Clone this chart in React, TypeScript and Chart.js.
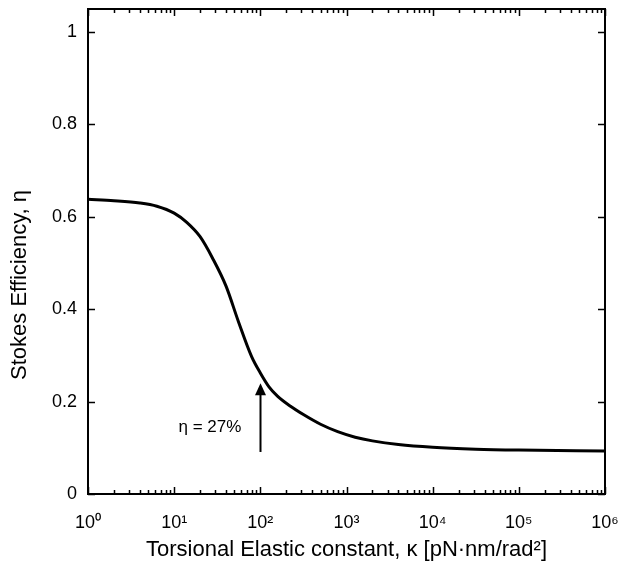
import { useEffect, useRef } from "react";
import { Chart, registerables } from "chart.js";

Chart.register(...registerables);

const kappa = [1, 2, 4, 6.3, 10, 14, 20, 28, 40, 56, 79, 100, 126, 158, 224, 316, 500, 790, 1260, 2000, 4000, 10000, 31600, 100000, 1000000];
const eta = [0.638, 0.635, 0.63, 0.623, 0.608, 0.588, 0.557, 0.51, 0.45, 0.372, 0.298, 0.262, 0.232, 0.212, 0.19, 0.172, 0.151, 0.135, 0.123, 0.115, 0.107, 0.101, 0.097, 0.095, 0.093];

const xTicks = [1, 10, 100, 1000, 10000, 100000, 1000000];
const xTickLabels = ["10⁰", "10¹", "10²", "10³", "10⁴", "10⁵", "10⁶"];
const yTicks = [0, 0.2, 0.4, 0.6, 0.8, 1];
const yTickLabels = ["0", "0.2", "0.4", "0.6", "0.8", "1"];

const xTitle = "Torsional Elastic constant, κ [pN·nm/rad²]";
const yTitle = "Stokes Efficiency, η";

const annotationText = "η = 27%";
const annotationTextKappa = 26;
const annotationTextEta = 0.145;
const arrowKappa = 100;
const arrowFromEta = 0.091;
const arrowToEta = 0.24;

const FONT = "'Liberation Sans', Arial, Helvetica, sans-serif";

const frameAndTicks = {
  id: "frameAndTicks",
  afterDatasetsDraw(chart: any) {
    const { ctx, chartArea, scales } = chart;
    const { left, right, top, bottom } = chartArea;
    const x = scales.x;
    const y = scales.y;
    ctx.save();
    ctx.strokeStyle = "#000";
    ctx.lineWidth = 2;
    ctx.strokeRect(left, top, right - left, bottom - top);

    ctx.lineWidth = 1.5;
    ctx.beginPath();
    xTicks.forEach((t, i) => {
      const px = Math.round(x.getPixelForValue(t)) + 0.5;
      ctx.moveTo(px, bottom);
      ctx.lineTo(px, bottom - 7);
      ctx.moveTo(px, top);
      ctx.lineTo(px, top + 7);
      if (i < xTicks.length - 1) {
        for (let m = 2; m <= 9; m++) {
          const mx = Math.round(x.getPixelForValue(t * m)) + 0.5;
          ctx.moveTo(mx, bottom);
          ctx.lineTo(mx, bottom - 4);
          ctx.moveTo(mx, top);
          ctx.lineTo(mx, top + 4);
        }
      }
    });
    yTicks.forEach((t) => {
      const py = Math.round(y.getPixelForValue(t)) + 0.5;
      ctx.moveTo(left, py);
      ctx.lineTo(left + 7, py);
      ctx.moveTo(right, py);
      ctx.lineTo(right - 7, py);
    });
    ctx.stroke();

    // annotation arrow
    const ax = Math.round(x.getPixelForValue(arrowKappa)) + 0.5;
    const y0 = y.getPixelForValue(arrowFromEta);
    const y1 = y.getPixelForValue(arrowToEta);
    const headLen = 12;
    const headHalf = 5.5;
    ctx.lineWidth = 2;
    ctx.beginPath();
    ctx.moveTo(ax, y0);
    ctx.lineTo(ax, y1 + headLen - 1);
    ctx.stroke();
    ctx.fillStyle = "#000";
    ctx.beginPath();
    ctx.moveTo(ax, y1);
    ctx.lineTo(ax - headHalf, y1 + headLen);
    ctx.lineTo(ax + headHalf, y1 + headLen);
    ctx.closePath();
    ctx.fill();

    ctx.font = `17px ${FONT}`;
    ctx.textAlign = "center";
    ctx.textBaseline = "middle";
    ctx.fillText(
      annotationText,
      x.getPixelForValue(annotationTextKappa),
      y.getPixelForValue(annotationTextEta)
    );

    // y axis title
    ctx.save();
    ctx.translate(20, 285);
    ctx.rotate(-Math.PI / 2);
    ctx.font = `22px ${FONT}`;
    ctx.textAlign = "center";
    ctx.textBaseline = "middle";
    ctx.fillText(yTitle, 0, 0);
    ctx.restore();

    ctx.restore();
  },
};

export default function App() {
  const canvasRef = useRef<HTMLCanvasElement | null>(null);

  useEffect(() => {
    if (!canvasRef.current) return;
    const chart = new Chart(canvasRef.current, {
      type: "line",
      data: {
        datasets: [
          {
            data: kappa.map((k, i) => ({ x: k, y: eta[i] })),
            borderColor: "#000",
            borderWidth: 3,
            pointRadius: 0,
            fill: false,
            cubicInterpolationMode: "monotone",
          },
        ],
      },
      options: {
        responsive: false,
        animation: false,
        layout: { padding: { top: 9, right: 20, left: 0, bottom: 0 } },
        plugins: {
          legend: { display: false },
          tooltip: { enabled: false },
        },
        scales: {
          x: {
            type: "logarithmic",
            min: 1,
            max: 1000000,
            afterBuildTicks: (s: any) => {
              s.ticks = xTicks.map((v) => ({ value: v }));
            },
            afterFit: (s: any) => {
              s.height = 78;
              s.paddingLeft = 0;
              s.paddingRight = 0;
            },
            grid: { display: false, drawTicks: false },
            border: { display: false },
            ticks: {
              autoSkip: false,
              maxRotation: 0,
              padding: 18,
              color: "#000",
              font: { family: FONT, size: 18 },
              callback: (_v: any, i: number) => xTickLabels[i],
            },
            title: {
              display: true,
              text: xTitle,
              color: "#000",
              font: { family: FONT, size: 22 },
              padding: { top: 0, bottom: 9 },
            },
          },
          y: {
            type: "linear",
            min: 0,
            max: 1.05,
            afterBuildTicks: (s: any) => {
              s.ticks = yTicks.map((v) => ({ value: v }));
            },
            afterFit: (s: any) => {
              s.width = 88;
              s.paddingTop = 0;
              s.paddingBottom = 0;
            },
            grid: { display: false, drawTicks: false },
            border: { display: false },
            ticks: {
              padding: 11,
              color: "#000",
              font: { family: FONT, size: 18 },
              callback: (_v: any, i: number) => yTickLabels[i],
            },
            title: { display: false },
          },
        },
      },
      plugins: [frameAndTicks],
    });
    return () => chart.destroy();
  }, []);

  return (
    <div style={{ position: "absolute", left: 0, top: 0, width: 625, height: 572, background: "#fff" }}>
      <canvas ref={canvasRef} width={625} height={572} style={{ display: "block" }} />
    </div>
  );
}
